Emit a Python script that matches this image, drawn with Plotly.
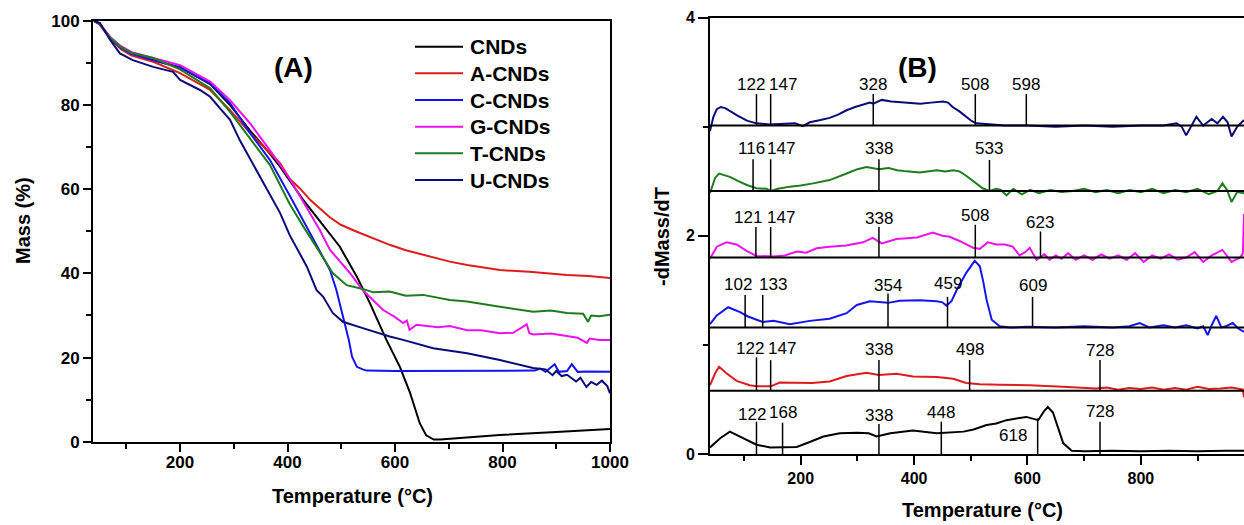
import plotly.graph_objects as go

FONT = "Liberation Sans, Arial, sans-serif"

# ---------------- Panel A : TGA mass (%) ----------------
names = ["CNDs", "A-CNDs", "C-CNDs", "G-CNDs", "T-CNDs", "U-CNDs"]
colors = ["#000000", "#dd1c1c", "#1414f0", "#ee11ee", "#1e7b1e", "#0a0a78"]

tga_T_CNDs = [40, 50, 70, 90, 110, 150, 200, 256, 293, 330, 367, 386, 429, 466, 497, 529, 553, 584, 609, 628, 646, 658, 665, 672, 684, 750, 795, 900, 1000]
tga_M_CNDs = [100, 99.3, 96, 93.5, 92, 90.6, 89, 85, 80, 74, 68.5, 65.4, 57.5, 51.5, 46.4, 39.2, 33, 24.2, 17.8, 11.6, 4.4, 1.5, 0.9, 0.5, 0.5, 1.1, 1.6, 2.3, 3.0]

tga_T_A = [40, 50, 70, 90, 110, 150, 200, 256, 293, 330, 386, 404, 423, 442, 479, 500, 529, 560, 590, 620, 652, 702, 734, 795, 850, 920, 960, 1000]
tga_M_A = [100, 99.2, 95.8, 93.3, 91.8, 90.3, 87.6, 83.6, 78.8, 73.4, 66.2, 62.5, 60.2, 57.5, 53.3, 51.5, 49.9, 48.3, 46.8, 45.5, 44.4, 42.8, 42.0, 40.8, 40.4, 39.6, 39.4, 38.9]

tga_T_C = [40, 50, 70, 90, 110, 150, 200, 256, 293, 330, 367, 404, 436, 442, 479, 491, 503, 514, 520, 529, 540, 547, 600, 700, 800, 860, 870, 880, 897, 905, 920, 929, 940, 960, 1000]
tga_M_C = [100, 99.4, 96, 93.6, 92.2, 90.8, 88.9, 85.2, 80.5, 73.4, 67, 58.5, 50.8, 49.6, 40.8, 36, 29.7, 24.2, 20.2, 17.8, 17.2, 16.9, 16.8, 16.8, 16.8, 16.9, 17.4, 16.6, 18.4, 16.6, 16.8, 18.4, 16.6, 16.7, 16.6]

tga_T_G = [40, 50, 70, 90, 110, 150, 200, 256, 293, 330, 367, 404, 436, 460, 479, 516, 540, 560, 578, 600, 615, 622, 627, 640, 652, 680, 702, 734, 760, 795, 820, 845, 850, 857, 890, 920, 940, 957, 962, 980, 1000]
tga_M_G = [100, 99.4, 96.2, 94, 92.6, 91.3, 89.5, 85.6, 81.2, 75.7, 69.3, 62.5, 55.5, 50.3, 45.6, 40.1, 36, 33.5, 31.3, 29.6, 28.2, 28.8, 26.6, 27.8, 27.6, 27.2, 27.5, 26.5, 26.5, 25.8, 25.9, 27.9, 25.8, 25.5, 25.7, 25.0, 24.7, 23.5, 24.5, 24.2, 24.2]

tga_T_T = [40, 50, 70, 90, 110, 150, 200, 256, 293, 330, 367, 404, 430, 460, 484, 510, 540, 560, 590, 620, 652, 702, 734, 795, 857, 890, 920, 950, 959, 965, 980, 1000]
tga_M_T = [100, 99.4, 96, 93.8, 92.4, 91.2, 88.5, 84, 78.4, 72.2, 65.8, 56.5, 51, 45, 40.1, 37.2, 36.3, 35.5, 35.7, 34.7, 34.9, 33.7, 33.3, 32.1, 30.9, 31.2, 30.6, 30.4, 28.5, 30.0, 29.8, 30.2]

tga_T_U = [40, 51, 70, 88, 112, 150, 187, 200, 237, 256, 274, 293, 311, 349, 386, 404, 436, 454, 466, 484, 503, 540, 590, 615, 671, 734, 795, 857, 880, 893, 900, 910, 920, 937, 945, 956, 965, 975, 985, 995, 1000]
tga_M_U = [100, 99.5, 95.5, 92.3, 90.7, 89.1, 87.9, 86, 83.6, 82, 79.3, 76.5, 71.7, 63, 54.4, 49.1, 41.6, 36, 34.5, 30.6, 28.5, 27, 25, 24.2, 22.2, 21.0, 19.4, 17.5, 17.2, 15.8, 16.8, 15.6, 15.9, 14.3, 15.2, 13.0, 14.2, 13.5, 14.5, 13.2, 11.5]

tga_T = [tga_T_CNDs, tga_T_A, tga_T_C, tga_T_G, tga_T_T, tga_T_U]
tga_M = [tga_M_CNDs, tga_M_A, tga_M_C, tga_M_G, tga_M_T, tga_M_U]

# ---------------- Panel B : DTG (stacked, offset values) ----------------
dtg_T_CNDs = [40, 58, 75, 99, 122, 146, 172, 193, 216, 240, 269, 299, 320, 334, 358, 398, 440, 487, 505, 528, 545, 563, 598, 619, 629, 636, 645, 654, 663, 678, 700, 750, 800, 850, 900, 950, 982]
dtg_V_CNDs = [0.06, 0.145, 0.205, 0.145, 0.085, 0.06, 0.06, 0.065, 0.11, 0.16, 0.19, 0.195, 0.19, 0.16, 0.19, 0.215, 0.19, 0.205, 0.225, 0.265, 0.28, 0.31, 0.34, 0.31, 0.39, 0.43, 0.38, 0.25, 0.10, 0.03, 0.025, 0.03, 0.025, 0.03, 0.025, 0.03, 0.03]

dtg_T_A = [40, 49, 56, 69, 87, 110, 122, 147, 163, 193, 220, 251, 281, 316, 338, 369, 398, 440, 469, 492, 516, 551, 604, 662, 721, 740, 760, 780, 800, 820, 840, 860, 880, 900, 920, 940, 960, 975, 980, 982]
dtg_V_A = [0.63, 0.74, 0.80, 0.74, 0.67, 0.63, 0.62, 0.62, 0.655, 0.65, 0.65, 0.665, 0.715, 0.745, 0.725, 0.735, 0.71, 0.705, 0.69, 0.65, 0.64, 0.635, 0.63, 0.617, 0.60, 0.61, 0.59, 0.605, 0.595, 0.61, 0.59, 0.605, 0.59, 0.615, 0.595, 0.60, 0.61, 0.595, 0.59, 0.52]

dtg_T_C = [40, 52, 72, 93, 107, 122, 133, 152, 181, 216, 251, 281, 292, 299, 322, 340, 354, 375, 410, 440, 450, 457, 466, 475, 492, 507, 516, 522, 528, 537, 551, 570, 600, 650, 700, 750, 780, 798, 815, 840, 860, 880, 900, 910, 918, 925, 933, 942, 950, 962, 972, 982]
dtg_V_C = [1.19, 1.27, 1.345, 1.30, 1.26, 1.23, 1.21, 1.22, 1.19, 1.22, 1.24, 1.29, 1.34, 1.366, 1.40, 1.39, 1.385, 1.405, 1.41, 1.40, 1.39, 1.36, 1.40, 1.50, 1.66, 1.77, 1.72, 1.58, 1.41, 1.23, 1.17, 1.16, 1.165, 1.16, 1.17, 1.16, 1.17, 1.20, 1.16, 1.18, 1.16, 1.18, 1.15, 1.17, 1.09, 1.18, 1.265, 1.16, 1.17, 1.20, 1.15, 1.12]

dtg_T_G = [40, 52, 69, 87, 105, 122, 152, 172, 193, 210, 228, 251, 280, 310, 327, 343, 369, 405, 433, 450, 463, 481, 504, 516, 530, 545, 560, 574, 586, 596, 604, 616, 630, 639, 650, 660, 672, 685, 700, 715, 730, 745, 760, 775, 790, 805, 820, 835, 850, 865, 880, 895, 910, 925, 944, 960, 975, 980, 982]
dtg_V_G = [1.79, 1.90, 1.94, 1.92, 1.86, 1.815, 1.81, 1.82, 1.855, 1.845, 1.885, 1.90, 1.91, 1.94, 1.98, 1.93, 1.97, 1.985, 2.03, 2.00, 1.99, 1.95, 1.89, 1.88, 1.94, 1.92, 1.92, 1.90, 1.82, 1.85, 1.89, 1.78, 1.83, 1.78, 1.82, 1.79, 1.84, 1.78, 1.82, 1.78, 1.83, 1.79, 1.82, 1.78, 1.84, 1.76, 1.82, 1.79, 1.83, 1.78, 1.80, 1.85, 1.76, 1.82, 1.87, 1.76, 1.80, 1.84, 2.20]

dtg_T_T = [40, 49, 56, 75, 90, 105, 122, 140, 147, 160, 181, 200, 222, 251, 281, 300, 316, 338, 355, 370, 387, 410, 440, 455, 469, 480, 492, 504, 521, 533, 545, 553, 563, 575, 590, 605, 620, 640, 660, 680, 700, 720, 740, 760, 780, 800, 820, 840, 860, 880, 900, 920, 935, 944, 952, 960, 970, 982]
dtg_V_T = [2.39, 2.53, 2.57, 2.54, 2.50, 2.465, 2.435, 2.43, 2.41, 2.43, 2.45, 2.46, 2.48, 2.51, 2.57, 2.61, 2.63, 2.61, 2.62, 2.60, 2.59, 2.58, 2.60, 2.59, 2.60, 2.59, 2.55, 2.50, 2.435, 2.41, 2.43, 2.42, 2.37, 2.43, 2.38, 2.42, 2.39, 2.42, 2.40, 2.41, 2.43, 2.40, 2.42, 2.39, 2.42, 2.40, 2.43, 2.39, 2.42, 2.40, 2.43, 2.38, 2.41, 2.48, 2.42, 2.31, 2.40, 2.39]

dtg_T_U = [40, 46, 52, 59, 67, 87, 105, 122, 145, 172, 190, 204, 216, 235, 251, 266, 281, 296, 310, 322, 328, 343, 360, 387, 411, 430, 451, 460, 468, 480, 492, 502, 510, 530, 560, 600, 650, 700, 750, 800, 840, 863, 872, 880, 889, 898, 910, 918, 925, 935, 945, 953, 960, 970, 982]
dtg_V_U = [2.96, 3.09, 3.16, 3.18, 3.17, 3.105, 3.055, 3.03, 3.02, 3.03, 3.03, 3.005, 3.04, 3.06, 3.08, 3.11, 3.15, 3.18, 3.20, 3.22, 3.21, 3.245, 3.23, 3.22, 3.21, 3.22, 3.23, 3.22, 3.18, 3.14, 3.09, 3.05, 3.03, 3.02, 3.01, 3.01, 3.00, 3.01, 3.00, 3.01, 3.01, 3.03, 3.00, 2.92, 3.01, 3.09, 3.01, 3.04, 3.07, 3.03, 3.09, 3.04, 2.91, 3.00, 3.06]

dtg_T = [dtg_T_CNDs, dtg_T_A, dtg_T_C, dtg_T_G, dtg_T_T, dtg_T_U]
dtg_V = [dtg_V_CNDs, dtg_V_A, dtg_V_C, dtg_V_G, dtg_V_T, dtg_V_U]
dtg_baseline = [0.0, 0.58, 1.16, 1.80, 2.41, 3.01]

# peak temperatures marked in panel B (per curve, same order as names)
peak_temps = [
    [122, 168, 338, 448, 618, 728],
    [122, 147, 338, 498, 728],
    [102, 133, 354, 459, 609],
    [121, 147, 338, 508, 623],
    [116, 147, 338, 533],
    [122, 147, 328, 508, 598],
]
peak_line_top = [
    [0.296, 0.287, 0.275, 0.296, 0.327, 0.296],
    [0.886, 0.86, 0.862, 0.862, 0.862],
    [1.457, 1.457, 1.47, 1.44, 1.44],
    [2.08, 2.08, 2.08, 2.10, 2.04],
    [2.70, 2.70, 2.70, 2.695],
    [3.30, 3.30, 3.30, 3.30, 3.30],
]
peak_label_y = [
    [0.364, 0.376, 0.353, 0.376, 0.174, 0.385],
    [0.965, 0.965, 0.962, 0.962, 0.953],
    [1.555, 1.555, 1.543, 1.56, 1.54],
    [2.163, 2.163, 2.16, 2.19, 2.12],
    [2.80, 2.80, 2.80, 2.80],
    [3.39, 3.39, 3.39, 3.39, 3.39],
]
# horizontal pixel shift of labels (layout only)
peak_label_dx = [
    [-4, 0, 0, 0, -25, 0],
    [-6, 11, 0, 0, 0],
    [-7, 10, 0, 0, 0],
    [-8, 10, 0, 0, 0],
    [-2, 10, 0, 0],
    [-5, 12, 0, 0, 0],
]

fig = go.Figure()

for n, c, T, M in zip(names, colors, tga_T, tga_M):
    fig.add_trace(go.Scatter(x=T, y=M, mode="lines", name=n, showlegend=False,
                             line=dict(color=c, width=2), xaxis="x", yaxis="y"))

for n, c, T, V in zip(names, colors, dtg_T, dtg_V):
    fig.add_trace(go.Scatter(x=T, y=V, mode="lines", name=n, showlegend=False,
                             line=dict(color=c, width=2), xaxis="x2", yaxis="y2"))

annotations = []
for i in range(len(names)):
    xs, ys = [], []
    for t, top, ly, dx in zip(peak_temps[i], peak_line_top[i], peak_label_y[i], peak_label_dx[i]):
        xs += [t, t, None]
        ys += [dtg_baseline[i], top, None]
        annotations.append(dict(x=t, y=ly, xref="x2", yref="y2", text=str(t),
                                showarrow=False, xshift=dx, xanchor="center", yanchor="middle",
                                font=dict(family=FONT, size=17, color="black")))
    fig.add_trace(go.Scatter(x=xs, y=ys, mode="lines", showlegend=False,
                             line=dict(color="black", width=1.5), xaxis="x2", yaxis="y2",
                             hoverinfo="skip"))

shapes = []
for b in dtg_baseline[1:]:
    shapes.append(dict(type="line", xref="x2 domain", x0=0, x1=1, yref="y2", y0=b, y1=b,
                       line=dict(color="black", width=2)))

W, H = 1244, 525
def px(x):
    return x / W
def py(y):
    return (H - y) / H

def paper_text(x, y, text, size, angle=0, xanchor="center"):
    return dict(x=px(x), y=py(y), xref="paper", yref="paper", text=text, showarrow=False,
                xanchor=xanchor, yanchor="middle", textangle=angle,
                font=dict(family=FONT, size=size, color="black"))

annotations += [
    paper_text(293, 67, "<b>(A)</b>", 28),
    paper_text(917, 67, "<b>(B)</b>", 28),
    paper_text(23, 221, "<b>Mass (%)</b>", 20, -90),
    paper_text(662, 237, "<b>-dMass/dT</b>", 20, -90),
    paper_text(352, 496, "<b>Temperature (°C)</b>", 20),
    paper_text(982, 510, "<b>Temperature (°C)</b>", 20),
]

# legend of panel A (built from names / colors)
legend_rows = [46.7, 73.3, 100, 126.7, 153.3, 180]
for n, c, ry in zip(names, colors, legend_rows):
    shapes.append(dict(type="line", xref="paper", yref="paper", x0=px(415), x1=px(463),
                       y0=py(ry), y1=py(ry), line=dict(color=c, width=2)))
    annotations.append(paper_text(468, ry, "<b>" + n + "</b>", 21, xanchor="left"))

def axis_common(size):
    return dict(showline=True, linecolor="black", linewidth=2, ticks="outside",
                tickcolor="black", tickwidth=2, showgrid=False, zeroline=False,
                tickfont=dict(family=FONT, size=size, color="black", weight="bold"),
                automargin=False, fixedrange=True)

fig.update_layout(
    width=W, height=H,
    margin=dict(l=0, r=0, t=0, b=0),
    paper_bgcolor="white", plot_bgcolor="white",
    xaxis=dict(domain=[px(93), px(610)], range=[38, 1000], anchor="y", mirror=True,
               ticklen=8, tick0=0, dtick=200, ticklabelstandoff=-4,
               minor=dict(ticks="outside", ticklen=5, tickwidth=2, tickcolor="black", tick0=0, dtick=100),
               **axis_common(17)),
    yaxis=dict(domain=[py(441.7), py(21)], range=[0, 100], anchor="x", mirror=True,
               ticklen=8, tick0=0, dtick=20,
               minor=dict(ticks="outside", ticklen=5, tickwidth=2, tickcolor="black", tick0=0, dtick=10),
               **axis_common(17)),
    xaxis2=dict(domain=[px(710), 1.0], range=[40, 982], anchor="y2", mirror=True,
                ticklen=9, tick0=0, dtick=200,
                minor=dict(ticks="outside", ticklen=5, tickwidth=2, tickcolor="black", tick0=0, dtick=100),
                **axis_common(16)),
    yaxis2=dict(domain=[py(454), py(17.5)], range=[0, 4], anchor="x2", mirror=False,
                ticklen=10, tick0=0, dtick=2,
                minor=dict(ticks="outside", ticklen=5, tickwidth=2, tickcolor="black", tick0=0, dtick=1),
                **axis_common(16)),
    annotations=annotations,
    shapes=shapes,
    showlegend=False,
)

fig.write_html("out.html", config={"displayModeBar": False},
               post_script="document.body.style.margin='0px';")
